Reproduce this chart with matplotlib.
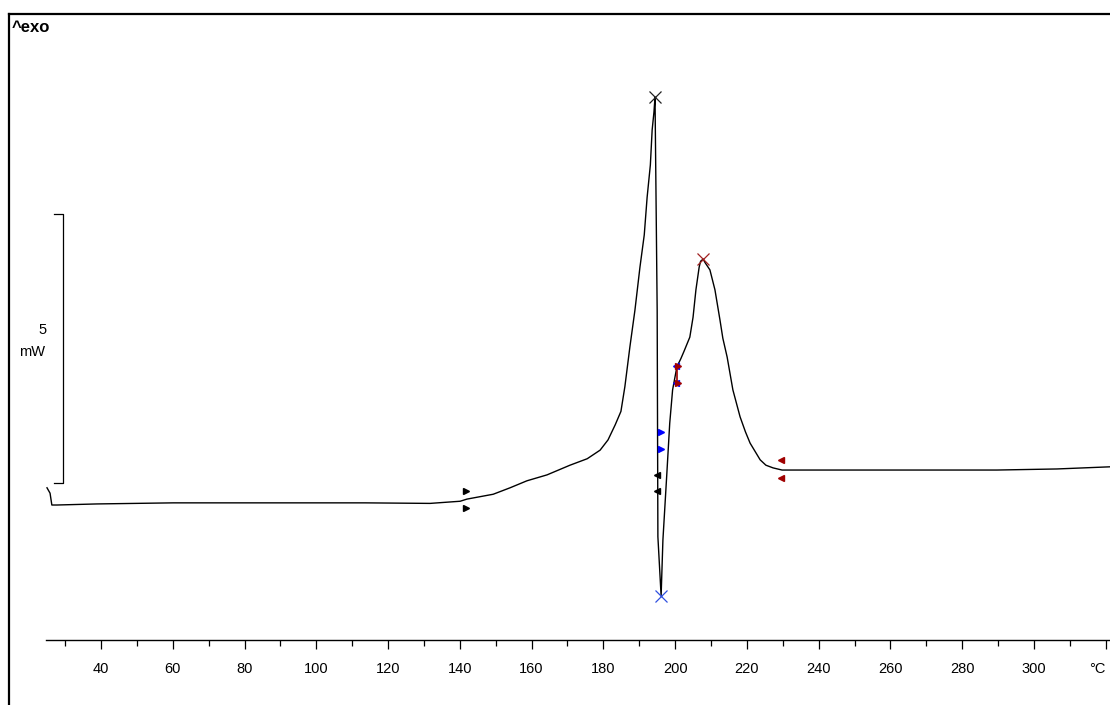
import numpy as np
import matplotlib.pyplot as plt
from matplotlib.ticker import FixedLocator

# DSC curve: temperature (deg C) and heat flow (mW, relative)
temp = [24.95, 25.8, 26.3, 27.7, 38.9, 60.1, 113.6, 131.7, 140.1, 142.0, 149.3,
        154.0, 158.7, 164.3, 170.7, 175.5, 179.1, 181.3, 183.3, 184.9, 186.0,
        187.4, 188.8, 190.2, 191.4, 192.2, 193.1, 193.6, 194.1, 194.4, 195.0,
        195.2, 196.1, 196.6, 197.7, 198.5, 199.3, 200.5, 201.6, 202.5, 204.1,
        205.0, 205.8, 206.7, 207.1, 207.8, 208.4, 209.7, 211.1, 212.5, 213.3,
        214.5, 216.1, 218.1, 219.6, 220.9, 223.7, 225.3, 227.3, 229.8, 289.7,
        306.4, 321.2]
heat = [0.32, 0.22, 0.0, 0.0, 0.02, 0.04, 0.04, 0.03, 0.07, 0.11, 0.20,
        0.32, 0.45, 0.56, 0.74, 0.86, 1.02, 1.21, 1.49, 1.74, 2.20,
        2.94, 3.62, 4.42, 5.02, 5.72, 6.32, 6.97, 7.30, 7.58, 3.62,
        -0.59, -1.69, -0.65, 0.59, 1.52, 2.14, 2.57, 2.72, 2.86, 3.12,
        3.49, 4.00, 4.42, 4.53, 4.57, 4.50, 4.37, 4.00, 3.44, 3.10,
        2.75, 2.14, 1.64, 1.36, 1.15, 0.84, 0.74, 0.69, 0.65, 0.65,
        0.67, 0.71]

# peak / minimum crosses
peak_t = [194.4, 196.1, 207.8]
peak_h = [7.58, -1.69, 4.57]
peak_c = ['#202020', '#3050e0', '#a02020']

# integration limit flags: temperature, upper, lower, marker, colour
lim_t = [141.8, 195.0, 196.0, 200.3, 200.8, 229.4]
lim_hi = [0.26, 0.56, 1.35, 2.58, 2.58, 0.84]
lim_lo = [-0.06, 0.26, 1.05, 2.27, 2.27, 0.50]
lim_m = ['>', '<', '>', '<', '>', '<']
lim_c = ['black', 'black', 'blue', 'blue', '#a00000', '#a00000']

major_ticks = [40, 60, 80, 100, 120, 140, 160, 180, 200, 220, 240, 260, 280, 300, 320]
minor_ticks = [30, 50, 70, 90, 110, 130, 150, 170, 190, 210, 230, 250, 270, 290, 310]
tick_labels = ['40', '60', '80', '100', '120', '140', '160', '180', '200',
               '220', '240', '260', '280', '300', '°C']

plt.rcParams['font.family'] = ['Liberation Sans', 'DejaVu Sans']

fig = plt.figure(figsize=(11.1, 7.05), dpi=100)
ax = fig.add_axes([9 / 1110, 0, 1101 / 1110, 691 / 705])
ax.set_xlim(14.36, 321.2)
ax.set_ylim(-3.717, 9.126)

ax.plot(temp, heat, color='black', lw=1.0, zorder=3)

for t, h, c in zip(peak_t, peak_h, peak_c):
    ax.plot(t, h, marker='x', ms=9, mew=0.9, color=c, zorder=4)

for t, hi, lo, m, c in zip(lim_t, lim_hi, lim_lo, lim_m, lim_c):
    ax.plot([t, t], [hi, lo], ls='none', marker=m, ms=4, color=c, zorder=4)
ax.plot([200.6, 200.6], [2.58, 2.27], color='#a00000', lw=1.2, zorder=3)

# 5 mW scale bar
ax.plot([26.9, 29.4, 29.4, 26.9], [5.409, 5.409, 0.409, 0.409], color='black', lw=0.9)
ax.text(23.6, 3.25, '5', ha='center', va='center', fontsize=10.5)
ax.text(20.9, 2.85, 'mW', ha='center', va='center', fontsize=10.5)

# frame and axis
for s in ['left', 'top']:
    ax.spines[s].set_linewidth(1.6)
ax.spines['right'].set_visible(False)
ax.spines['bottom'].set_position(('data', -2.509))
ax.spines['bottom'].set_bounds(24.7, 321.2)
ax.spines['bottom'].set_linewidth(1.0)
ax.set_yticks([])
ax.xaxis.set_major_locator(FixedLocator(major_ticks))
ax.set_xticklabels(tick_labels)
ax.xaxis.set_minor_locator(FixedLocator(minor_ticks))
ax.tick_params(axis='x', which='major', direction='out', length=6.5, width=0.9,
               pad=9, labelsize=10.5)
ax.tick_params(axis='x', which='minor', direction='out', length=4.3, width=0.9)
ax.get_xticklabels()[-1].set_ha('right')

fig.text(12 / 1110, 1 - 27 / 705, '^exo', fontsize=12, fontweight='bold',
         ha='left', va='center')

fig.savefig('out.png', dpi=100)
